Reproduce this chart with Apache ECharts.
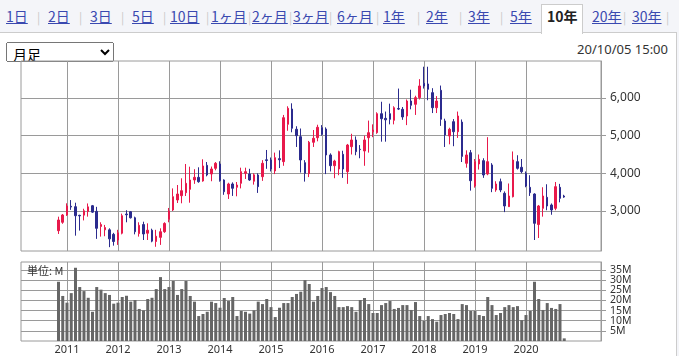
<!DOCTYPE html>
<html><head><meta charset="utf-8">
<script src="https://cdn.jsdelivr.net/npm/echarts@6/dist/echarts.min.js"></script>
<style>
html,body{margin:0;padding:0;}
body{width:679px;height:356px;overflow:hidden;background:#f4f5f9;position:relative;font-family:"Noto Sans CJK JP","Noto Sans",sans-serif;}
#content{position:absolute;left:0;top:32px;width:676px;height:324px;background:#fff;border-top:1px solid #ccc;border-right:1px solid #ccc;}
.tab{position:absolute;top:7px;font-size:14px;line-height:18px;color:#3a49b0;text-decoration:underline;white-space:nowrap;}
.sep{position:absolute;top:9px;font-size:12px;line-height:15px;color:#c8c8c8;}
#active{position:absolute;left:541px;top:4px;width:42px;height:30px;background:#fff;border:1px solid #ccc;border-bottom:none;box-sizing:border-box;z-index:1;}
.tab.on{color:#222;font-weight:bold;text-decoration:none;z-index:2;}
select{position:absolute;left:6px;top:42px;width:108px;height:20px;font-size:14px;font-family:"Noto Sans CJK JP",sans-serif;padding:0 0 0 2px;}
#ts{position:absolute;right:11px;top:40px;font-size:13px;line-height:18px;color:#333;font-family:"Noto Sans",sans-serif;}
#chart{position:absolute;left:0;top:0;width:679px;height:356px;z-index:3;pointer-events:none;}
</style>
</head>
<body>
<div id="content"></div>
<div id="active"></div>
<div id="tabs"></div>
<select><option>月足</option></select>
<div id="ts">20/10/05 15:00</div>
<div id="chart"></div>
<script>
// ---- data ----
const tabLabels = ["1日","2日","3日","5日","10日","1ヶ月","2ヶ月","3ヶ月","6ヶ月","1年","2年","3年","5年","10年","20年","30年"];
const activeTab = "10年";
const yearLabels = ["2011","2012","2013","2014","2015","2016","2017","2018","2019","2020"];
const yearPos = [2,14,26,38,50,62,74,86,98,110]; // month index of each January
const priceTicks = [3000,4000,5000,6000];
const volTicks = [5,10,15,20,25,30,35];
const volTicksOdd = [5,15,25,35];
const volTicksEven = [10,20,30];
const volUnit = "単位: M";

const open = [2477,2700,2894,3125,3114,2885,2890,2985,3140,2990,2590,2500,2500,2380,2230,2410,2920,2980,2820,2400,
2640,2410,2490,2190,2300,2450,2780,3027,3292,3406,3486,3576,3823,3894,3797,4213,3982,4133,4248,3823,
3451,3717,3630,3735,4000,3982,3790,3956,3911,4360,4354,4062,4390,4310,5302,5708,5169,4973,4283,3991,
4824,4946,5212,5177,4487,4203,4115,4504,4044,4708,4885,4640,4593,4946,5105,5080,5583,5460,5583,5407,
5720,5700,5522,5920,5832,6009,6390,6372,6142,5742,6204,5390,4991,5371,5105,5360,4266,4548,3664,4248,
4336,3982,4222,3558,3778,3470,3115,3380,4310,4160,4000,3628,3451,2640,3071,3363,3160,3071,3628,3398];
const close = [2761,2894,3133,3105,2875,2870,3005,3110,2970,2540,2640,2560,2260,2190,2420,2875,2900,2820,2450,2620,
2390,2490,2200,2330,2450,2670,3000,3380,3451,3539,3735,3823,3894,3778,4195,3956,4115,4266,3805,3513,
3717,3603,3690,4044,4044,3823,3960,3646,4266,4340,4115,4416,4360,5477,5727,5196,5000,4354,4000,4824,
4930,5222,5036,4487,4203,4327,4575,4115,4752,4885,4575,4630,4885,5080,5150,5583,5450,5420,5434,5742,
5705,5496,5920,5806,6009,6319,6319,6231,5742,5920,5434,5018,5169,5105,5522,4450,4487,3805,4310,4372,
3956,4310,3602,3717,3558,3133,3398,4354,4133,4044,3664,3486,2673,3133,3398,3133,3027,3646,3336,3370];
const low = [2390,2660,2870,3030,2345,2480,2750,2850,2950,2260,2320,2330,2040,2080,2100,2380,2700,2800,2380,2320,
2230,2230,2170,2050,2100,2420,2700,3000,3212,3204,3398,3220,3720,3750,3778,3920,3790,4080,3780,3430,
3320,3400,3390,3600,3850,3800,3700,3480,3800,4120,4050,3980,4140,4200,5130,5090,4700,4020,3780,3900,
4700,4850,5000,3980,4050,3870,3950,3880,3720,4500,4480,4400,4200,4550,4960,5050,4840,4840,5300,5300,
5680,5420,5280,5700,5550,5960,6250,5940,5600,5600,5260,4700,4770,4720,4940,4300,4150,3540,3620,4100,
3880,3950,3500,3510,3500,2970,3110,3360,4100,4000,3630,3400,2230,2283,2850,3020,2900,3020,3230,3350];
const high = [2849,2920,3204,3290,3220,2900,3060,3200,3160,3110,2700,2630,2540,2420,2500,2930,3020,3000,2850,2700,
2716,2673,2530,2500,2540,2700,3080,3600,3690,3868,4248,4176,4110,4160,4373,4300,4180,4300,4320,3840,
3750,3760,3770,4150,4150,4120,4000,4000,4350,4620,4420,4550,4610,5550,5780,5859,5250,5190,4350,4860,
5150,5290,5280,5220,4530,4360,4600,4600,4780,5050,4980,4750,5000,5400,5300,5620,5900,5640,5850,5780,
6250,5760,5960,6220,6060,6500,6830,6830,6260,6050,6330,5450,5210,5440,5640,5430,4610,4620,4380,4500,
4400,4960,4270,3790,3860,3520,3730,4580,4480,4380,4050,3950,3470,3160,3630,3710,3200,3770,3720,3430];
const volume = [29.2,22.2,18.9,23.6,36.1,26.6,24.6,21.3,14.4,26.6,25.3,23.6,22.7,18.4,18.9,21.7,22.3,19.4,20.2,15.8,
15.1,20.7,21.3,25.6,31.5,25.6,26.6,29.6,22.7,25.6,29.6,22.2,19.4,12.3,13.3,14.4,19.4,18.7,16.4,21.2,
19.7,21.7,12.3,14.8,14.4,13.5,15.1,19.4,18.2,20.7,16.7,11.8,16.4,18.7,18.7,21.7,23.2,24.3,30.0,28.1,
19.4,22.2,26.1,26.6,24.1,22.2,16.7,16.7,17.2,16.7,14.4,20.2,21.2,18.2,13.8,13.8,17.7,18.7,19.7,15.8,
16.3,17.7,17.7,15.3,19.2,12.3,9.9,12.3,10.8,9.5,12.8,13.3,13.8,13.3,10.8,18.2,17.7,14.8,14.8,12.8,
12.3,21.7,17.7,12.8,13.8,16.7,17.7,16.7,17.2,10.3,12.8,14.8,29.2,20.7,15.3,18.7,16.3,15.8,18.2,1.3];

// ---- page tabs ----
const tabX = [6,48,90,132,170,211,252,293,337,383,426,468,510,547,592,632];
const sepX = [37,79,121,163,206,248,289,329,376,417,459,500,623,666];
const tabsEl = document.getElementById('tabs');
tabLabels.forEach((t,i)=>{
  const s=document.createElement('span');
  s.className='tab'+(t===activeTab?' on':'');
  s.style.left=tabX[i]+'px'; s.textContent=t; tabsEl.appendChild(s);
});
sepX.forEach(x=>{const s=document.createElement('span');s.className='sep';s.style.left=x+'px';s.textContent='|';tabsEl.appendChild(s);});

// ---- chart ----
const GRID = '#9a9a9a';
const UP = '#e8194b', DOWN = '#2b2b8e';
const candles = open.map((o,i)=>[i,o,close[i],low[i],high[i]]);
const vols = volume.map((v,i)=>[i,v]);
const fmt = v => String(v).replace(/\B(?=(\d{3})+(?!\d))/g, ',');
const volLabel = vals => ({customValues:vals, formatter:v=>v+'M', color:'#333', fontSize:10.5, margin:9, hideOverlap:false});
const chart = echarts.init(document.getElementById('chart'), null, {renderer:'canvas'});
chart.setOption({
  animation:false,
  backgroundColor:'transparent',
  textStyle:{fontFamily:'"Noto Sans","Noto Sans CJK JP",sans-serif'},
  grid:[
    {left:21, top:61, width:580, height:190, show:true, borderColor:GRID, borderWidth:1, backgroundColor:'transparent'},
    {left:21, top:262, width:580, height:79, show:true, borderColor:GRID, borderWidth:1, backgroundColor:'transparent'}
  ],
  xAxis:[
    {gridIndex:0, type:'value', min:-8.82, max:127.65,
     axisLine:{show:false, onZero:false}, axisTick:{show:false, customValues:yearPos}, axisLabel:{show:false},
     splitLine:{show:true, lineStyle:{color:GRID, width:1}}},
    {gridIndex:1, type:'value', min:-8.82, max:127.65,
     axisLine:{show:false, onZero:false}, axisTick:{show:false, customValues:yearPos},
     axisLabel:{show:true, customValues:yearPos, margin:3, color:'#333', fontSize:11, hideOverlap:false,
       formatter:v=>yearLabels[yearPos.indexOf(Math.round(v))] || ''},
     splitLine:{show:true, lineStyle:{color:GRID, width:1}}}
  ],
  yAxis:[
    {gridIndex:0, type:'value', position:'right', min:1938, max:6982,
     axisLine:{show:true, onZero:false, lineStyle:{color:GRID}},
     axisTick:{show:true, length:5, customValues:priceTicks, lineStyle:{color:GRID}},
     axisLabel:{customValues:priceTicks, formatter:v=>fmt(v), color:'#333', fontSize:12, margin:9, hideOverlap:false},
     splitLine:{show:true, lineStyle:{color:GRID, width:1}}},
    {gridIndex:1, type:'value', position:'right', min:0, max:38.94,
     axisLine:{show:true, onZero:false, lineStyle:{color:GRID}},
     axisTick:{show:true, length:5, customValues:volTicks, lineStyle:{color:GRID}},
     axisLabel:volLabel(volTicksOdd),
     splitLine:{show:true, lineStyle:{color:GRID, width:1}}},
    {gridIndex:1, type:'value', position:'right', min:0, max:38.94,
     axisLine:{show:false, onZero:false},
     axisTick:{show:false, customValues:volTicksEven},
     axisLabel:volLabel(volTicksEven),
     splitLine:{show:false}}
  ],
  graphic:[{type:'text', left:27, top:265, z:10, style:{text:volUnit, fontSize:11, fill:'#333', fontFamily:'"Noto Sans CJK JP",sans-serif'}}],
  series:[
    {type:'candlestick', xAxisIndex:0, yAxisIndex:0, barWidth:2, data:candles,
     itemStyle:{color:UP, color0:DOWN, borderColor:UP, borderColor0:DOWN, borderWidth:1}},
    {type:'bar', xAxisIndex:1, yAxisIndex:1, barWidth:3, data:vols, itemStyle:{color:'#666'}}
  ]
});
</script>
</body></html>
